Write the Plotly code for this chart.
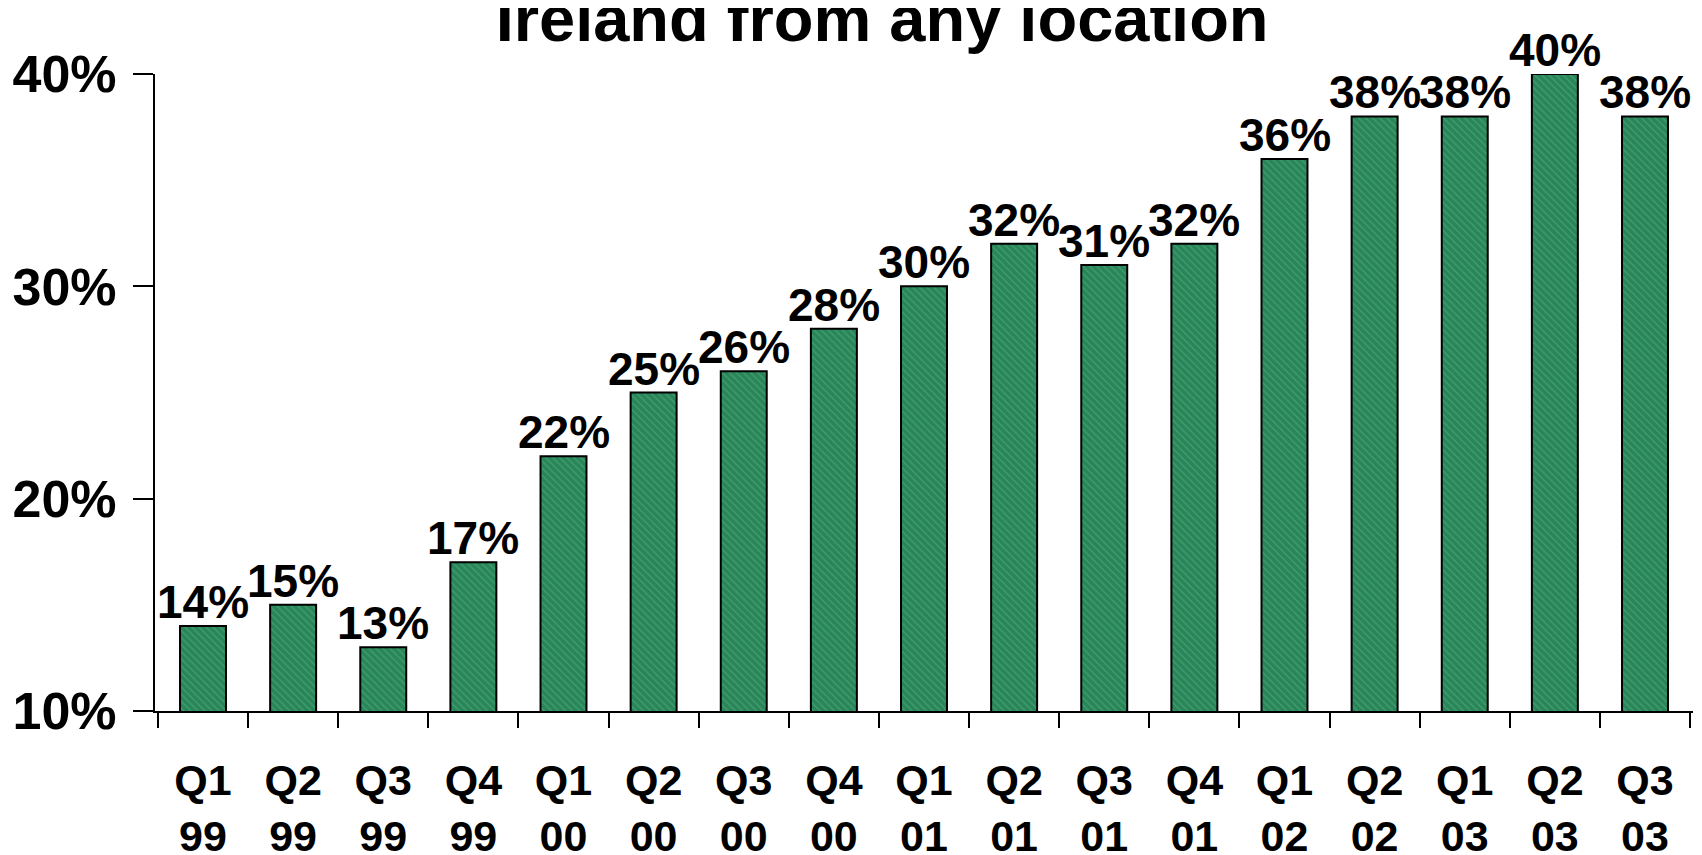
import plotly.graph_objects as go

quarters = ["Q1", "Q2", "Q3", "Q4", "Q1", "Q2", "Q3", "Q4", "Q1", "Q2", "Q3", "Q4", "Q1", "Q2", "Q1", "Q2", "Q3"]
years = ["99", "99", "99", "99", "00", "00", "00", "00", "01", "01", "01", "01", "02", "02", "03", "03", "03"]
values = [14, 15, 13, 17, 22, 25, 26, 28, 30, 32, 31, 32, 36, 38, 38, 40, 38]
labels = [f"{v}%" for v in values]
categories = [f"{q}<br>{y}" for q, y in zip(quarters, years)]
y_ticks = [10, 20, 30, 40]
y_tick_text = ["10%", "20%", "30%", "40%"]
title_text = "Ireland from any location"

FONT = "Liberation Sans, Arial, sans-serif"

fig = go.Figure(
    go.Bar(
        x=categories,
        y=values,
        width=0.51,
        cliponaxis=False,
        marker=dict(
            color="#2a8559",
            line=dict(color="black", width=2),
            pattern=dict(shape="\\", fgcolor="#5cc08f", fgopacity=0.45, size=5, solidity=0.25),
        ),
        hoverinfo="skip",
    )
)

for cat, val, lab in zip(categories, values, labels):
    fig.add_annotation(
        x=cat,
        y=val,
        text="<b>" + lab + "</b>",
        showarrow=False,
        xanchor="center",
        yanchor="bottom",
        yshift=-4,
        font=dict(family=FONT, size=46, color="black"),
    )

fig.update_layout(
    width=1694,
    height=847,
    margin=dict(l=147, r=9, t=66, b=144),
    plot_bgcolor="white",
    paper_bgcolor="white",
    showlegend=False,
    title=dict(
        text="<b>" + title_text + "</b>",
        font=dict(family=FONT, size=65, color="black"),
        x=0.516,
        xanchor="center",
        y=0.9616,
        yanchor="bottom",
    ),
)

fig.update_xaxes(
    type="category",
    automargin=False,
    showline=True,
    linecolor="black",
    linewidth=2,
    ticks="outside",
    tickson="boundaries",
    ticklen=15,
    tickwidth=2,
    tickcolor="black",
    ticklabelstandoff=30,
    tickfont=dict(family=FONT, size=43, color="black", weight="bold"),
    showgrid=False,
    zeroline=False,
)

fig.update_yaxes(
    range=[10, 40],
    automargin=False,
    tickvals=y_ticks,
    ticktext=y_tick_text,
    showline=True,
    linecolor="black",
    linewidth=2,
    ticks="outside",
    ticklen=20,
    tickwidth=2,
    tickcolor="black",
    ticklabelstandoff=6,
    tickfont=dict(family=FONT, size=52, color="black", weight="bold"),
    showgrid=False,
    zeroline=False,
)

fig.write_html("out.html")
